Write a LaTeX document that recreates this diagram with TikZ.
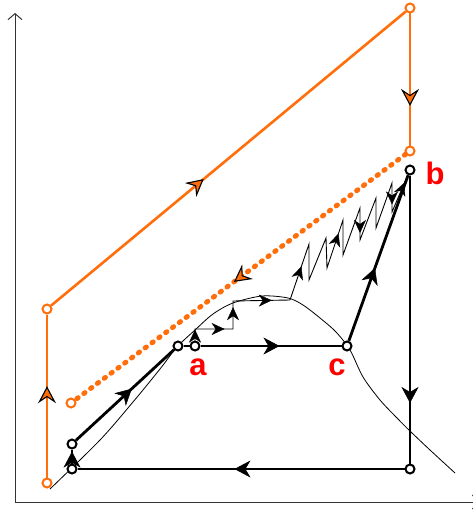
\documentclass[tikz,border=0pt]{standalone}
\usepackage{fontspec}
\setmainfont{Liberation Sans}
\usepackage{tikz}
\usetikzlibrary{arrows.meta,decorations.markings}
\definecolor{orangeC}{HTML}{FF6E0A}
\definecolor{redC}{HTML}{FF0000}

\tikzset{
  state/.style={circle, draw=black, fill=white, line width=2pt, minimum size=9pt, inner sep=0pt},
  ostate/.style={state, draw=orangeC},
  thickline/.style={line width=2.8pt},
  thinline/.style={line width=0.9pt},
  oline/.style={orangeC, line width=2.6pt},
  flow/.style 2 args={postaction={decorate, solid, decoration={markings, mark=at position #1 with {\arrow{#2}}}}},
  bigtip/.tip={Stealth[length=16pt, width=17pt, inset=5pt, line width=0.5pt]},
  smalltip/.tip={Stealth[length=13pt, width=12pt, inset=4pt, line width=0.4pt]},
  otip/.tip={Stealth[length=17pt, width=18pt, inset=6pt, fill=orangeC, color=black, line width=1.1pt]},
  lbl/.style={text=redC, font=\fontsize{31}{31}\selectfont\bfseries},
}

\begin{document}
\begin{tikzpicture}[x=1pt, y=-1pt]
  \useasboundingbox (0,0) rectangle (473,511);

  % Axes
  \draw[line width=1pt, black!80, {Straight Barb[length=6pt, width=14pt]}-{Straight Barb[length=6pt, width=14pt]}]
    (15,13) -- (15,502) -- (479,502);

  % Saturation dome
  \draw[line width=0.8pt] plot[smooth] coordinates {(50,489) (100,440) (133,402) (160,369) (177,347)
    (195,330) (213,314) (233,303) (262,296) (288,298) (303,305) (320,318) (336,332) (350,350)
    (363,377) (380,400) (397,418) (411,432) (430,450) (455,473)};

  % Orange cycle
  \node[ostate] (o1) at (47,483) {};
  \node[ostate] (o2) at (47,309) {};
  \node[ostate] (o3) at (410,8) {};
  \node[ostate] (o4) at (410,151) {};
  \node[ostate] (o5) at (71,403) {};
  \draw[oline, flow={0.56}{otip}] (o1) -- (o2);
  \draw[oline, flow={0.43}{otip}] (o2) -- (o3);
  \draw[oline, flow={0.7}{otip}] (o3) -- (o4);
  \draw[orangeC, line width=5pt, dash pattern=on 1.5pt off 7pt, line cap=round, flow={0.52}{otip}] (o4) -- (o5);

  % Black cycle
  \node[state] (s1) at (72,469) {};
  \node[state] (s2) at (72,444) {};
  \node[state] (s3) at (178,346) {};
  \node[state] (a) at (195,346) {};
  \node[state] (c) at (347,346) {};
  \node[state] (b) at (410,170) {};
  \node[state] (s4) at (410,469) {};
  \draw[thickline, flow={0.85}{bigtip}] (s1) -- (s2);
  \draw[thickline, flow={0.57}{bigtip}] (s2) -- (s3);
  \draw[thickline] (s3) -- (a);
  \draw[thickline, flow={0.56}{bigtip}] (a) -- (c);
  \draw[thickline, flow={0.44}{bigtip}] (c) -- (b);
  \draw[thickline, flow={0.79}{bigtip}] (b) -- (s4);
  \draw[thickline, flow={0.52}{bigtip}] (s4) -- (s1);

  % Staircase and zigzag
  \coordinate (t1) at (195,329);
  \coordinate (t2) at (233,329);
  \coordinate (t3) at (233,301);
  \foreach \n/\x/\y in {0/290/300, 1/309/244, 2/309/280, 3/326/238, 4/327/268, 5/343/220, 6/343/255,
      7/360/208, 8/360/240, 9/376/198, 10/376/228, 11/392/183, 12/392/212}
    \coordinate (z\n) at (\x,\y);
  \draw[thinline] (a) -- (t1) -- (t2) -- (t3) -- (z0) -- (z1) -- (z2) -- (z3) -- (z4) -- (z5) -- (z6)
    -- (z7) -- (z8) -- (z9) -- (z10) -- (z11) -- (z12) -- (b);
  \foreach \u/\v/\p in {a/t1/0.95, t1/t2/0.78, t2/t3/0.78, t3/z0/0.68, z0/z1/0.6, z4/z5/0.72,
      z7/z8/0.78, z11/z12/0.74, z12/b/0.8}
    \path[flow={\p}{smalltip}] (\u) -- (\v);

  % Labels
  \node[lbl] (la) at (198,367) {a};
  \node[lbl] (lc) at (337,367) {c};
  \node[lbl] (lb) at (435,173) {b};
\end{tikzpicture}
\end{document}
